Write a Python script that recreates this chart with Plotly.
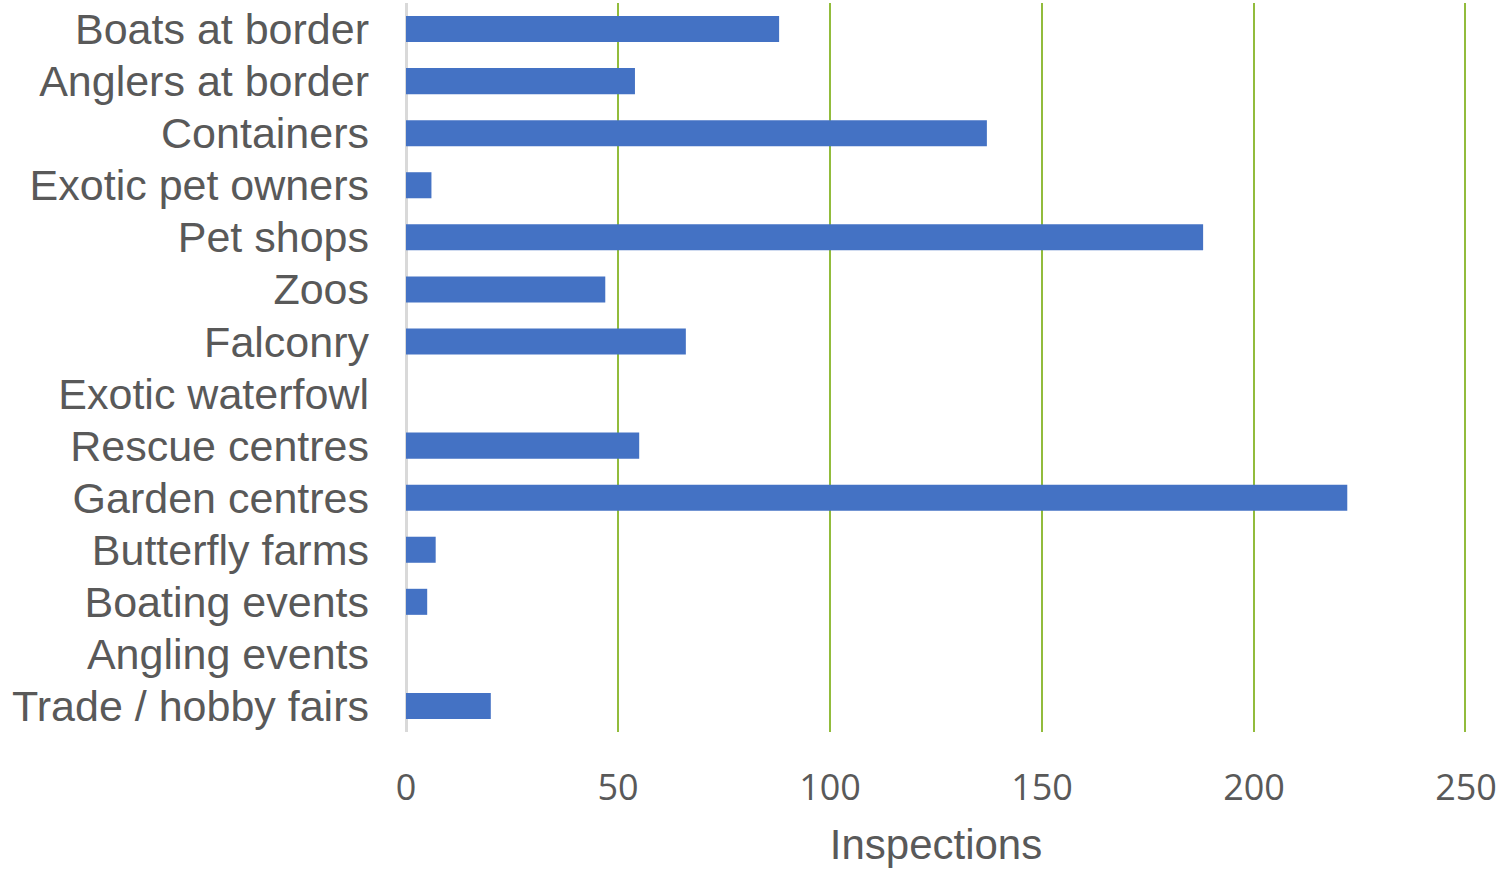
import plotly.graph_objects as go

categories = [
    "Boats at border", "Anglers at border", "Containers", "Exotic pet owners",
    "Pet shops", "Zoos", "Falconry", "Exotic waterfowl", "Rescue centres",
    "Garden centres", "Butterfly farms", "Boating events", "Angling events",
    "Trade / hobby fairs",
]
inspections = [88, 54, 137, 6, 188, 47, 66, 0, 55, 222, 7, 5, 0, 20]
x_ticks = [0, 50, 100, 150, 200, 250]

GRID = "#92BC3C"

fig = go.Figure(
    go.Bar(
        x=inspections,
        y=categories,
        orientation="h",
        width=0.5,
        marker=dict(color="#4472C4", line=dict(width=0)),
    )
)

# gridline at the right edge of the axis range (plotly hides it at the boundary;
# the shape is clipped to the plot area, so draw it double width)
fig.add_shape(
    type="line", xref="x", yref="paper",
    x0=x_ticks[-1], x1=x_ticks[-1], y0=0, y1=1,
    line=dict(color=GRID, width=4), layer="below",
)

fig.update_layout(
    width=1502,
    height=870,
    margin=dict(l=406, r=36, t=3, b=138),
    paper_bgcolor="white",
    plot_bgcolor="white",
    showlegend=False,
    xaxis=dict(
        range=[0, 250],
        tickvals=x_ticks,
        ticktext=[str(v) for v in x_ticks],
        showgrid=True,
        gridcolor=GRID,
        gridwidth=2,
        zeroline=True,
        zerolinecolor="#D9D9D9",
        zerolinewidth=3,
        showline=False,
        ticks="",
        ticklabelstandoff=31,
        tickfont=dict(family="Open Sans", size=36, color="#595959"),
        title=dict(
            text="Inspections",
            font=dict(family="Liberation Sans", size=42, color="#595959"),
            standoff=19,
        ),
    ),
    yaxis=dict(
        categoryorder="array",
        categoryarray=categories,
        autorange="reversed",
        showgrid=False,
        zeroline=False,
        showline=False,
        ticks="",
        ticklabelstandoff=36,
        tickfont=dict(family="Liberation Sans", size=43, color="#595959"),
    ),
)

fig.write_html("out.html")
